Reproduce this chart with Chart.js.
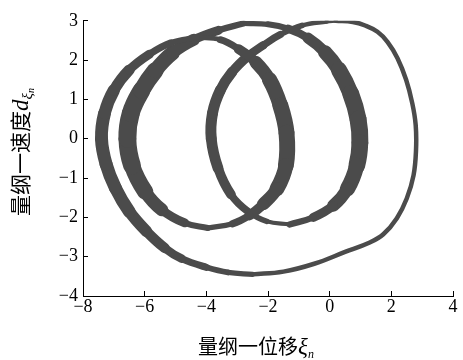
<!DOCTYPE html>
<html>
<head>
<meta charset="utf-8">
<script src="https://cdn.jsdelivr.net/npm/chart.js@4.4.0/dist/chart.umd.min.js"></script>
<style>
  html, body { margin: 0; padding: 0; background: #fff; }
  #wrap { width: 463px; height: 360px; }
</style>
</head>
<body>
<div id="wrap"><canvas id="phase" width="463" height="360"></canvas></div>
<script>
// phase orbit (displacement, velocity), cut at the top / bottom turning points of each lap
const outerLap = [[0.2, 3.0], [0.75, 2.97], [1.15, 2.88], [1.55, 2.72], [1.88, 2.46], [2.2, 2.05],
  [2.48, 1.5], [2.68, 0.9], [2.79, 0.35], [2.8, -0.3], [2.72, -0.93], [2.5, -1.52], [2.18, -2.02],
  [1.74, -2.43], [1.3, -2.64], [0.5, -2.88], [-0.5, -3.18], [-1.5, -3.38], [-2.5, -3.45]];
const leftRise1 = [[-2.5, -3.45], [-3.3, -3.4], [-4.0, -3.27], [-4.8, -3.05], [-5.35, -2.78],
  [-5.95, -2.35], [-6.5, -1.85], [-6.95, -1.25], [-7.25, -0.65], [-7.4, 0], [-7.3, 0.65],
  [-7.0, 1.23], [-6.5, 1.75], [-5.85, 2.15], [-5.15, 2.44], [-4.3, 2.58]];
const midFall1 = [[-4.3, 2.58], [-3.55, 2.52], [-2.95, 2.28], [-2.4, 1.95], [-1.95, 1.5],
  [-1.6, 0.85], [-1.4, 0.15], [-1.42, -0.68], [-1.71, -1.27], [-2.15, -1.66], [-2.6, -1.95],
  [-3.15, -2.16], [-3.95, -2.27]];
const leftRise2 = [[-3.95, -2.27], [-4.7, -2.14], [-5.44, -1.81], [-5.98, -1.35], [-6.41, -0.68],
  [-6.56, 0], [-6.45, 0.65], [-6.1, 1.23], [-5.66, 1.73], [-5.1, 2.18], [-4.4, 2.52],
  [-3.6, 2.76], [-2.8, 2.93]];
const rightFall = [[-2.8, 2.93], [-2.0, 2.91], [-1.35, 2.8], [-0.7, 2.56], [-0.15, 2.2],
  [0.3, 1.75], [0.68, 1.15], [0.92, 0.5], [0.98, -0.1], [0.88, -0.68], [0.58, -1.27],
  [0.12, -1.7], [-0.53, -2.0], [-1.3, -2.18]];
const midRise = [[-1.3, -2.18], [-2.04, -2.1], [-2.65, -1.85], [-3.2, -1.42], [-3.62, -0.75],
  [-3.84, 0], [-3.8, 0.65], [-3.55, 1.23], [-3.17, 1.69], [-2.65, 2.1], [-2.15, 2.38],
  [-1.6, 2.65], [-0.9, 2.88], [-0.1, 2.98], [0.2, 3.0]];

const xTicks = [-8, -6, -4, -2, 0, 2, 4];
const yTicks = [-4, -3, -2, -1, 0, 1, 2, 3];

const xTitle = '量纲一位移';
const yTitle = '量纲一速度';

// stroke width of each lap: the drifting laps pile up into a band that is widest at mid-height
const laps = [
  { pts: outerLap, thin: 4.5, thick: 4.5 },
  { pts: leftRise1, thin: 5, thick: 13 },
  { pts: midFall1, thin: 4.5, thick: 16 },
  { pts: leftRise2, thin: 5, thick: 18 },
  { pts: rightFall, thin: 5, thick: 17 },
  { pts: midRise, thin: 4, thick: 11 }
];

const ink = '#4b4b4b';

function taper(ctx) {
  const ds = ctx.chart.data.datasets[ctx.datasetIndex];
  const a = ds.data[ctx.p0DataIndex], b = ds.data[ctx.p1DataIndex];
  const t = Math.abs(((a.y + b.y) / 2 - ds.yMid) / ds.yHalf);
  return ds.thin + (ds.thick - ds.thin) * Math.max(0, 1 - t * t * t);
}

const datasets = laps.map(l => {
  const ys = l.pts.map(p => p[1]);
  const lo = Math.min(...ys), hi = Math.max(...ys);
  return {
    data: l.pts.map(p => ({ x: p[0], y: p[1] })),
    thin: l.thin, thick: l.thick,
    yMid: (lo + hi) / 2, yHalf: (hi - lo) / 2,
    borderColor: ink,
    borderWidth: l.thick,
    borderCapStyle: 'round',
    borderJoinStyle: 'round',
    pointRadius: 0,
    tension: 0.4,
    fill: false,
    segment: { borderWidth: taper }
  };
});

const minus = v => String(v).replace('-', '\u2212');
const tickFont = { family: '"Liberation Serif", "Times New Roman", serif', size: 18 };

// axis titles with the sub-scripted symbols
const axisTitles = {
  id: 'axisTitles',
  afterDraw(chart) {
    const c = chart.ctx;
    const cjk = sz => sz + 'px "Noto Sans CJK SC"';
    const it = sz => 'italic ' + sz + 'px "Liberation Serif"';
    const run = (parts, x, y) => {
      let w = 0;
      parts.forEach(p => { c.font = p[1]; w += c.measureText(p[0]).width; });
      let cx = x - w / 2;
      parts.forEach(p => {
        c.font = p[1];
        c.fillText(p[0], cx, y + p[2]);
        cx += c.measureText(p[0]).width;
      });
    };
    c.save();
    c.fillStyle = '#000';
    c.textBaseline = 'alphabetic';
    run([[xTitle, cjk(20), 0], ['ξ', it(23), 0], ['n', it(12), 4]], 256, 354);
    c.translate(28, 152);
    c.rotate(-Math.PI / 2);
    run([[yTitle, cjk(21), 0], ['d', it(23), 0], ['ξ', it(15), 4], ['n', it(10), 6]], 0, 0);
    c.restore();
  }
};

new Chart(document.getElementById('phase'), {
  type: 'line',
  data: { datasets },
  plugins: [axisTitles],
  options: {
    responsive: false,
    animation: false,
    layout: { padding: { top: 16, right: 10, left: 0, bottom: 0 } },
    plugins: { legend: { display: false }, tooltip: { enabled: false } },
    scales: {
      x: {
        type: 'linear',
        min: xTicks[0], max: xTicks[xTicks.length - 1],
        afterBuildTicks: s => { s.ticks = xTicks.map(v => ({ value: v })); },
        afterFit: s => { s.height = 64; },
        border: { color: '#000', width: 1 },
        grid: { drawOnChartArea: false, tickLength: -5, color: '#000' },
        ticks: { padding: 5, font: tickFont, color: '#000', callback: minus, maxRotation: 0 }
      },
      y: {
        type: 'linear',
        min: yTicks[0], max: yTicks[yTicks.length - 1],
        afterBuildTicks: s => { s.ticks = yTicks.map(v => ({ value: v })); },
        afterFit: s => { s.width = 83; },
        border: { color: '#000', width: 1 },
        grid: { drawOnChartArea: false, tickLength: -5, color: '#000' },
        ticks: { padding: 10, font: tickFont, color: '#000', callback: minus }
      }
    }
  }
});
</script>
</body>
</html>
